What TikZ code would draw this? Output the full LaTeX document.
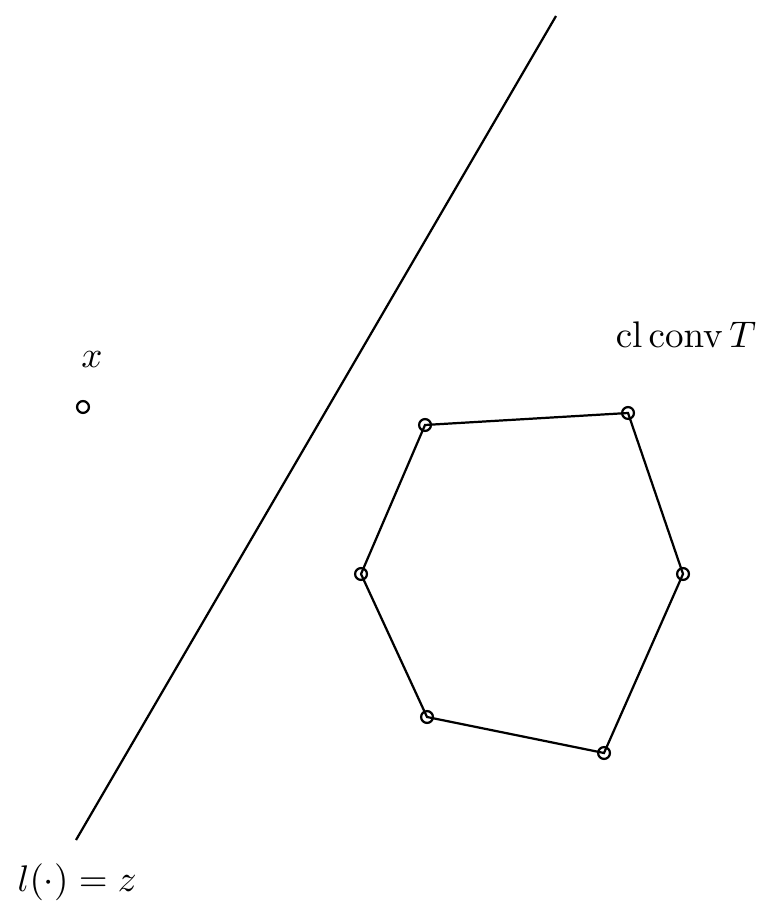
\documentclass[tikz,border=0pt]{standalone}
\begin{document}
\begin{tikzpicture}[x=0.27pt,y=-0.27pt,
  edge/.style={line width=0.6pt},
  vtx/.style={circle,draw,line width=0.6pt,minimum size=3.2pt,inner sep=0pt},
  lbl/.style={inner sep=0pt}]
\useasboundingbox (0,0) rectangle (759,901);
% separating line
\coordinate (la) at (76,840);
\coordinate (lb) at (556,16);
\draw[edge] (la) -- (lb);
% hexagon
\coordinate (v1) at (425,425);
\coordinate (v2) at (628,413);
\coordinate (v3) at (683,574);
\coordinate (v4) at (604,753);
\coordinate (v5) at (427,717);
\coordinate (v6) at (361,574);
\draw[edge] (v1) -- (v2) -- (v3) -- (v4) -- (v5) -- (v6) -- cycle;
\foreach \v in {v1,v2,v3,v4,v5,v6} \node[vtx] at (\v) {};
% point x
\node[vtx] (px) at (83,407) {};
\node[lbl] (lx) at (92,360) {$x$};
% labels
\node[lbl,anchor=base west] (lT) at (615,348) {$\mathrm{cl}\,\mathrm{conv}\,T$};
\node[lbl,anchor=base west] (ll) at (17,891) {$l(\cdot)=z$};
\end{tikzpicture}
\end{document}
